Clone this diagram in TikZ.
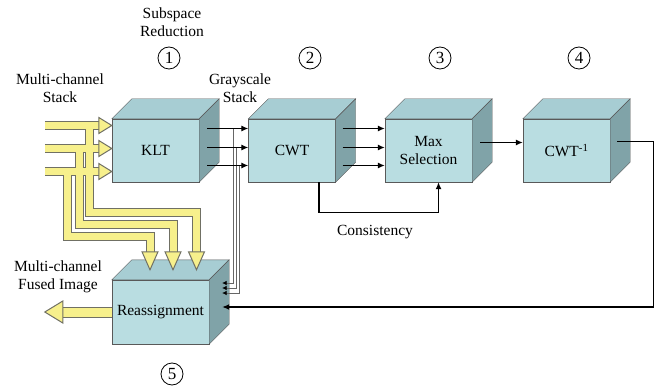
\documentclass[tikz,border=0pt]{standalone}
\usepackage{fontspec}
\setmainfont{Liberation Serif}
\usetikzlibrary{arrows.meta,calc}

\definecolor{cubefront}{HTML}{B9DDE1}
\definecolor{cubetop}{HTML}{A7CDD3}
\definecolor{cubeside}{HTML}{80A3A8}
\definecolor{pipeyellow}{HTML}{F7F08C}
\definecolor{pipeedge}{HTML}{707064}

\begin{document}
\begin{tikzpicture}[x=1pt,y=-1pt,
        font=\fontsize{15.5}{18}\selectfont,
        cube/.style={draw=black!65, fill=cubefront, minimum width=87pt, minimum height=63pt, inner sep=0pt, align=center},
        topface/.style={draw=black!65, fill=cubetop},
        sideface/.style={draw=black!65, fill=cubeside},
        arr/.style={line width=1.2pt, -{Latex[length=7pt,width=6pt]}},
        gline/.style={draw=black!60, line width=0.6pt, -{Latex[length=4.5pt,width=4.5pt,black]}},
        pipehead/.style={draw=pipeedge, fill=pipeyellow, line width=1pt},
        num/.style={draw, circle, minimum size=22pt, inner sep=0pt, line width=0.8pt, font=\fontsize{17}{17}\selectfont}]

            \useasboundingbox (0,0) rectangle (655,387);

            \node[cube] (klt) at (155.5,150.5) {KLT};
            \node[cube] (cwt) at (292,150.5) {CWT};
            \node[cube] (maxsel) at (428.5,150.5) {Max\\Selection};
            \node[cube] (icwt) at (566.5,150.5) {CWT\textsuperscript{-1}};
            \node[cube, minimum width=97pt, minimum height=64pt] (reas) at (160.5,312) {Reassignment};

            \foreach \n in {klt,cwt,maxsel,icwt,reas} {
                \filldraw[topface] (\n.north west) -- ++(20,-20) -- ($(\n.north east)+(20,-20)$) -- (\n.north east) -- cycle;
                \filldraw[sideface] (\n.north east) -- ++(20,-20) -- ($(\n.south east)+(20,-20)$) -- (\n.south east) -- cycle;
            }

            \coordinate (in1) at ($(klt.west)+(-67,-25)$);
            \coordinate (in2) at ($(klt.west)+(-67,-2)$);
            \coordinate (in3) at ($(klt.west)+(-67,21)$);
            \coordinate (t1) at ($(reas.north)+(36,-10)$);
            \coordinate (t2) at ($(reas.north)+(12.5,-10)$);
            \coordinate (t3) at ($(reas.north)+(-10.5,-10)$);
            \coordinate (out) at ($(reas.west)+(-67,0)$);

            \foreach \w/\v/\col in {9/11/pipeedge,7/9/pipeyellow} {
                \draw[line width=\w pt, \col] (in1) -- ($(klt.west)+(-12,-25)$)
                    ($(in1)+(45,0)$) |- ($(t1)+(0,-57)$) -- ($(t1)+(0,-18)$);
                \draw[line width=\w pt, \col] (in2) -- ($(klt.west)+(-12,-2)$)
                    ($(in2)+(35,0)$) |- ($(t2)+(0,-45)$) -- ($(t2)+(0,-18)$);
                \draw[line width=\w pt, \col] (in3) -- ($(klt.west)+(-12,21)$)
                    ($(in3)+(23,0)$) |- ($(t3)+(0,-33)$) -- ($(t3)+(0,-18)$);
                \draw[line width=\v pt, \col] (reas.west) -- ($(out)+(18,0)$);
            }
            \foreach \dy in {-25,-2,21}
                \filldraw[pipehead] ($(klt.west)+(0,\dy)$) -- ++(-13,-8) -- ++(0,16) -- cycle;
            \foreach \t in {t1,t2,t3}
                \filldraw[pipehead] (\t) -- ++(-8,-18) -- ++(16,0) -- cycle;
            \filldraw[pipehead] (out) -- ++(18,-11) -- ++(0,22) -- cycle;

            \draw[gline] ($(klt.east)+(34,-22)$) |- ($(reas.east)+(13,-29)$);
            \draw[gline] ($(klt.east)+(37,-3)$) |- ($(reas.east)+(13,-24)$);
            \draw[gline] ($(klt.east)+(40,15)$) |- ($(reas.east)+(13,-19)$);

            \foreach \dy in {-22,-3,15} {
                \draw[arr] ($(klt.east)+(8,\dy)$) -- ($(cwt.west)+(0,\dy)$);
                \draw[arr] ($(cwt.east)+(7,\dy)$) -- ($(maxsel.west)+(0,\dy)$);
            }
            \draw[arr] ($(maxsel.east)+(8,-8)$) -- ($(icwt.west)+(0,-8)$);
            \draw[arr] ($(cwt.south)+(27,0)$) -- ++(0,30) -| ($(maxsel.south)+(10,0)$);
            \draw[arr] ($(icwt.east)+(7,-9)$) -- ++(36,0) |- ($(reas.east)+(13,-5)$);

            \node[align=center] at (172,22) {Subspace\\Reduction};
            \node[align=center] at (60,88) {Multi-channel\\Stack};
            \node[align=center] at (240,88) {Grayscale\\Stack};
            \node at (375,232) {Consistency};
            \node[align=center] at (58,277) {Multi-channel\\Fused Image};

            \node[num] (n1) at (169,58) {1};
            \node[num] (n2) at (310,58) {2};
            \node[num] (n3) at (440,58) {3};
            \node[num] (n4) at (579,58) {4};
            \node[num] (n5) at (172,374) {5};
        \end{tikzpicture}
\end{document}
